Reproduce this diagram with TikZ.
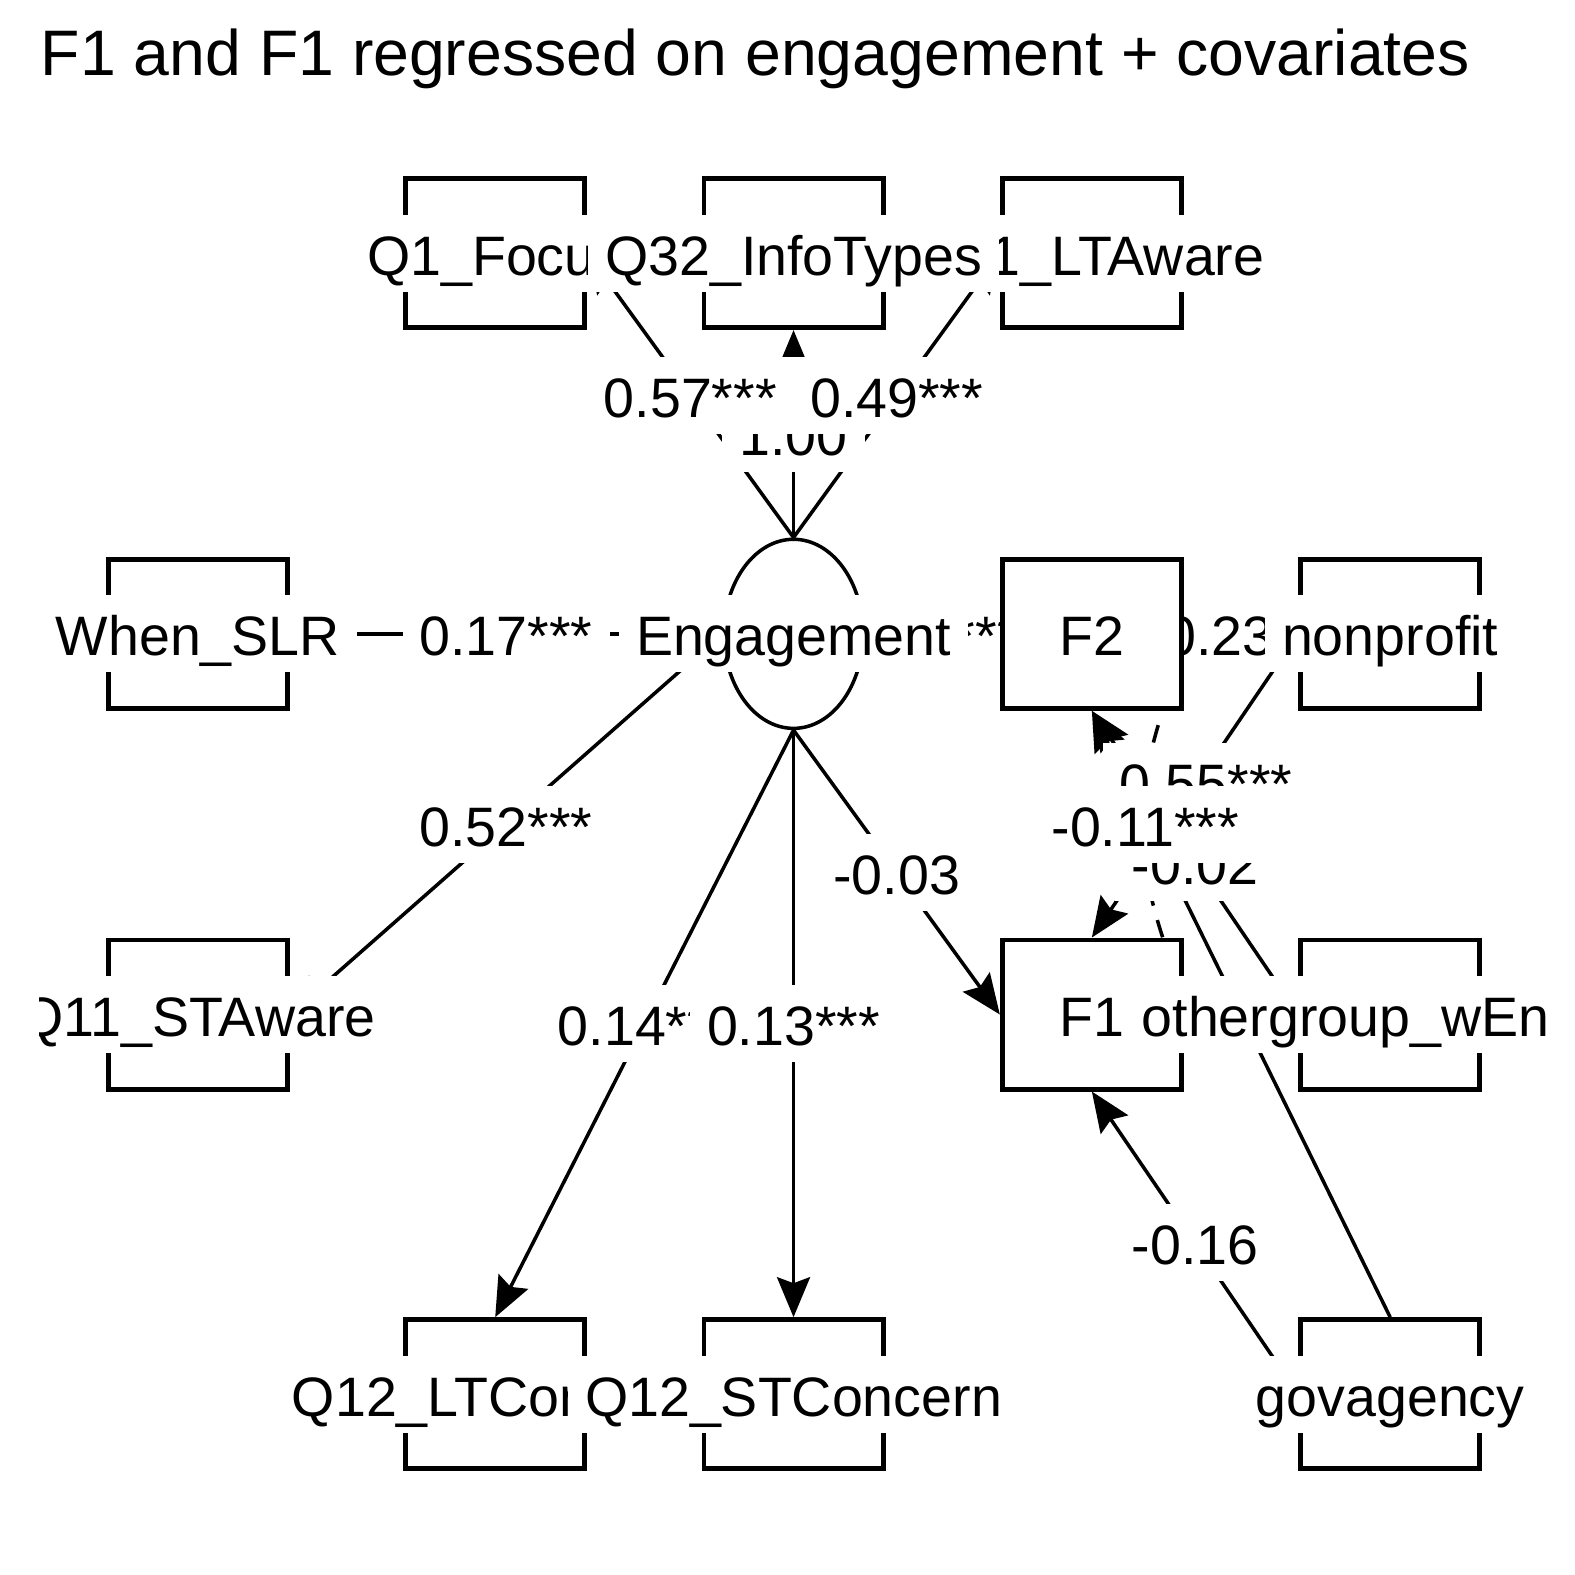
\documentclass[tikz,border=0pt]{standalone}
\usepackage{fontspec}
\setmainfont{Liberation Sans}
\usetikzlibrary{arrows.meta,shapes.geometric,calc}
\pgfdeclarelayer{bglayer}
\pgfdeclarelayer{edgelayer}
\pgfdeclarelayer{elablayer}
\pgfdeclarelayer{toplayer}
\pgfsetlayers{bglayer,edgelayer,elablayer,main,toplayer}
\begin{document}
\begin{tikzpicture}[x=0.010045cm,y=-0.010045cm,
  box/.style={draw, line width=1.4pt, fill=white, minimum width=1.79cm, minimum height=1.49cm, inner sep=0pt},
  lat/.style={ellipse, draw, line width=1.0pt, fill=white, minimum width=1.39cm, minimum height=1.89cm, inner sep=0pt},
  nlab/.style={fill=white, inner xsep=0.17cm, inner ysep=0pt, minimum height=0.77cm, text height=0.44cm, text depth=0cm, font=\fontsize{15.8}{18}\selectfont},
  elab/.style={nlab},
  edge/.style={line width=1.0pt, -{Stealth[length=0.4cm, width=0.33cm, inset=0.06cm]}},
  cov/.style={line width=1.0pt, dash pattern=on 0.18cm off 0.15cm, dash phase=0.18cm},
]
\begin{pgfonlayer}{bglayer}
\fill[white] (0,0) rectangle (1568,1568);
\end{pgfonlayer}
\useasboundingbox (0,0) rectangle (1568,1568);

% title
\node[anchor=base west, inner sep=0pt, font=\fontsize{18.3}{22}\selectfont] (title) at (40,75) {F1 and F1 regressed on engagement + covariates};

% nodes (shapes)
\node[box] (q1f) at (493,252) {};
\node[box] (q32) at (790,252) {};
\node[box] (q11lt) at (1087,252) {};
\node[box] (when) at (197,631) {};
\node[lat] (eng) at (790,631) {};
\node[box] (f2) at (1087,631) {};
\node[box] (nonp) at (1384,631) {};
\node[box] (q11st) at (197,1010) {};
\node[box] (f1) at (1087,1010) {};
\node[box] (other) at (1384,1010) {};
\node[box] (q12lt) at (493,1388) {};
\node[box] (q12st) at (790,1388) {};
\node[box] (gov) at (1384,1388) {};

\coordinate (f2c) at ($(f2.south)!0.77!(f2.south east)$);
\coordinate (f1c) at ($(f1.north)!0.77!(f1.north east)$);

% edges
\begin{pgfonlayer}{edgelayer}
\draw[edge] (eng.north) -- (q1f.east);
\draw[edge] (eng.north) -- (q32.south);
\draw[edge] (eng.north) -- (q11lt.west);
\draw[edge] (eng.west) -- (when.east);
\draw[edge] (eng.west) -- (q11st.east);
\draw[edge] (eng.south) -- (q12lt.north);
\draw[edge] (eng.south) -- (q12st.north);
\draw[edge] (eng.south) -- (f1.west);
\draw[edge] (eng.east) -- (f2.west);
\draw[edge] (nonp.west) -- (f2.east);
\draw[edge] (nonp.west) -- (f1.north);
\draw[edge] (other.west) -- (f2.south);
\draw[edge] (other.west) -- (f1.east);
\draw[edge] (gov.north) -- (f2.south);
\draw[edge] (gov.west) -- (f1.south);
\draw[cov] (f2c) to[bend right=18] (f1c);
\end{pgfonlayer}

% edge labels
\begin{pgfonlayer}{elablayer}
\path (eng.north) -- (q32.south) node[elab, midway] (l2) {1.00};
\path (eng.north) -- (q1f.east) node[elab, midway] (l1) {0.57***};
\path (eng.north) -- (q11lt.west) node[elab, midway] (l3) {0.49***};
\path (eng.west) -- (when.east) node[elab, midway] (l4) {0.17***};
\path (eng.west) -- (q11st.east) node[elab, midway] (l5) {0.52***};
\path (eng.south) -- (q12lt.north) node[elab, midway] (l6) {0.14***};
\path (eng.south) -- (q12st.north) node[elab, midway] (l7) {0.13***};
\path (eng.south) -- (f1.west) node[elab, midway] (l8) {-0.03};
\path (eng.east) -- (f2.west) node[elab, midway] (l9) {\phantom{0.00}***};
\path (nonp.west) -- (f2.east) node[elab, midway] (l10) {0.23**};
\path (nonp.west) -- (f1.north) node[elab, midway, xshift=0.11cm, yshift=0.04cm] (l11) {0.55***};
\path (other.west) -- (f2.south) node[elab, midway] (l12) {-0.02};
\path (f2c) to[bend right=18] node[elab, xshift=0.03cm] (l13) {-0.11***} (f1c);
\path (gov.west) -- (f1.south) node[elab, midway] (l14) {-0.16};
\end{pgfonlayer}

% node labels
\begin{pgfonlayer}{toplayer}
\begin{scope}
\clip (39,100) rectangle (1541,1568);
\node[nlab] (q1f-l) at (q1f) {Q1\_Focus};
\node[nlab] (q11lt-l) at (q11lt) {Q11\_LTAware};
\node[nlab] (q32-l) at (q32) {Q32\_InfoTypes};
\node[nlab] (when-l) at (when) {When\_SLR};
\node[nlab] (eng-l) at (eng) {Engagement};
\node[nlab] (f2-l) at (f2) {F2};
\node[nlab] (nonp-l) at (nonp) {nonprofit};
\node[nlab] (q11st-l) at (q11st) {Q11\_STAware};
\node[nlab] (f1-l) at (f1) {F1};
\node[nlab, anchor=west] (other-l) at ($(other.center)+(-265,0)$) {othergroup\_wEn};
\node[nlab] (q12lt-l) at (q12lt) {Q12\_LTConcern};
\node[nlab] (q12st-l) at (q12st) {Q12\_STConcern};
\node[nlab] (gov-l) at (gov) {govagency};
\end{scope}
\end{pgfonlayer}
\end{tikzpicture}
\end{document}
